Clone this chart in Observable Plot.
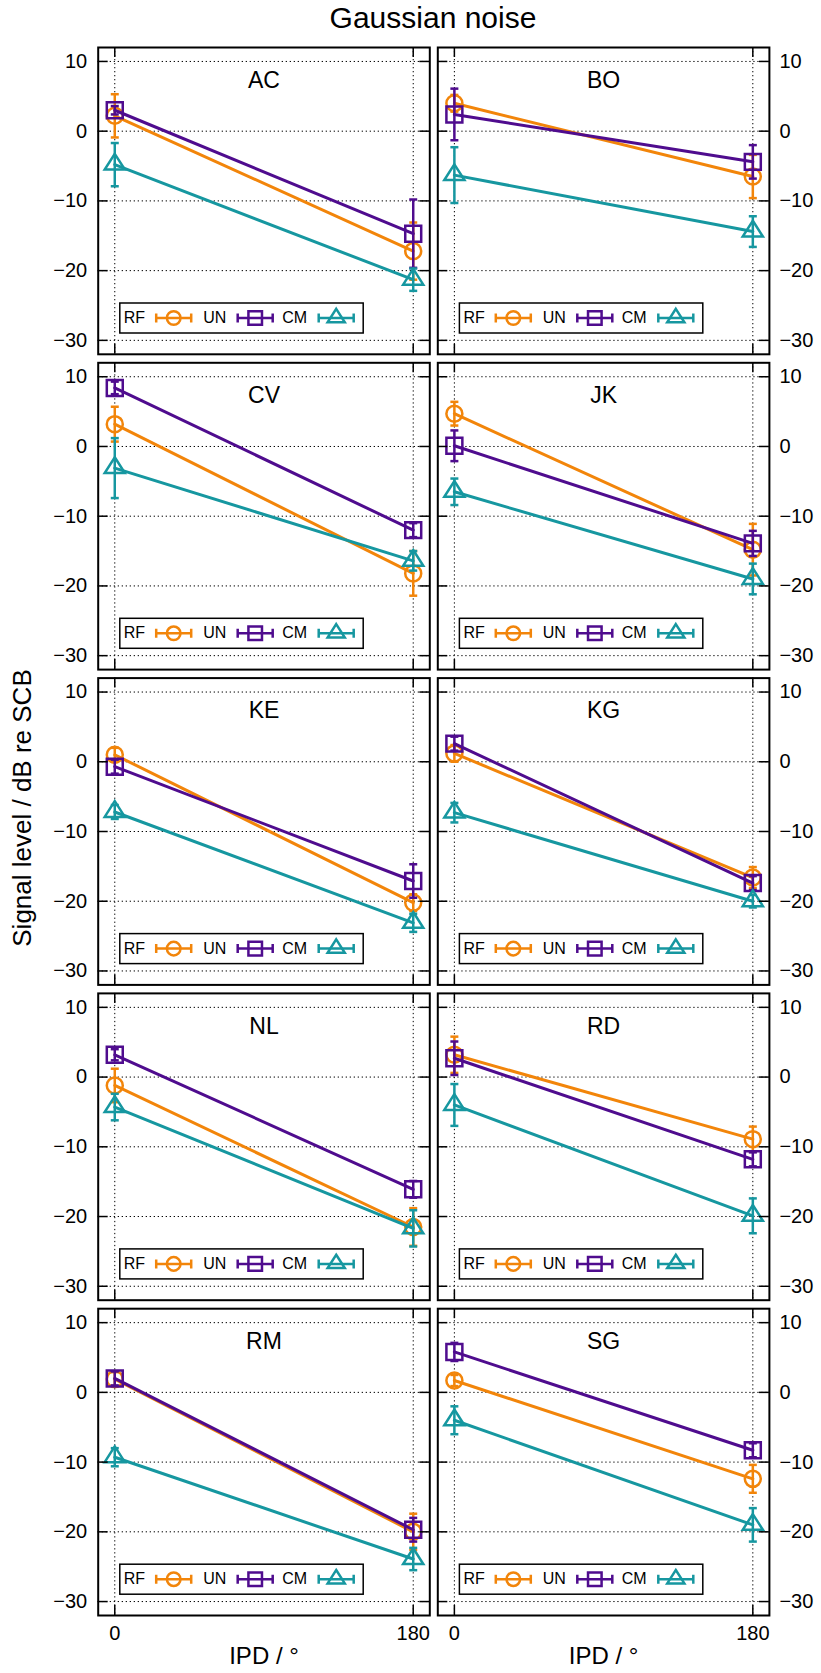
<!DOCTYPE html>
<html>
<head>
<meta charset="utf-8">
<script src="https://cdn.jsdelivr.net/npm/d3@7"></script>
<script src="https://cdn.jsdelivr.net/npm/@observablehq/plot@0.6"></script>
<style>
  html, body { margin: 0; padding: 0; background: #fff; }
  #fig { position: relative; width: 821px; height: 1673px; font-family: "Liberation Sans", Arial, sans-serif; color: #000; }
  #fig svg { position: absolute; left: 0; top: 0; }
  #title { position: absolute; left: 0; top: 1px; width: 866px; text-align: center; font-size: 30px; line-height: 34px; }
  #ylabel { position: absolute; left: 22px; top: 808px; transform: translate(-50%, -50%) rotate(-90deg); white-space: nowrap; font-size: 26px; line-height: 28px; }
</style>
</head>
<body>
<div id="fig">
  <div id="title">Gaussian noise</div>
  <div id="ylabel">Signal level / dB re SCB</div>
</div>
<script>
// Listeners, in panel order (left column, right column, row by row)
const subjects = ["AC", "BO", "CV", "JK", "KE", "KG", "NL", "RD", "RM", "SG"];
const ipd = [0, 180];
const series = ["RF", "UN", "CM"];
const colors = ["#f2850a", "#4f0c8e", "#1697a0"];
const yTicks = [-30, -20, -10, 0, 10];

// Signal level (dB re SCB) at IPD 0 and 180, and error half-widths
const rfLevel = [[2.2, -17.2], [4.0, -6.5], [3.2, -18.2], [4.7, -14.8], [1.0, -20.2],
                 [1.2, -16.6], [-1.2, -21.5], [3.2, -8.9], [1.9, -20.0], [1.7, -12.4]];
const rfError = [[3.1, 4.1], [1.2, 3.1], [2.5, 3.2], [1.7, 3.7], [1.0, 1.2],
                 [1.2, 1.5], [2.4, 2.7], [2.6, 1.8], [1.0, 2.6], [0.8, 2.0]];
const unLevel = [[3.0, -14.7], [2.4, -4.4], [8.4, -12.0], [0.1, -13.9], [-0.7, -17.1],
                 [2.6, -17.4], [3.2, -16.1], [2.7, -11.8], [2.0, -19.7], [5.8, -8.3]];
const unError = [[0.6, 4.9], [3.7, 2.4], [0.9, 1.0], [2.2, 1.8], [1.0, 2.4],
                 [1.0, 1.0], [0.8, 1.2], [2.4, 1.0], [1.0, 1.7], [1.3, 1.0]];
const cmLevel = [[-4.8, -21.3], [-6.3, -14.4], [-3.1, -16.4], [-6.5, -19.0], [-7.2, -23.1],
                 [-7.3, -20.0], [-4.3, -21.7], [-4.0, -19.9], [-9.3, -23.9], [-4.0, -19.0]];
const cmError = [[3.1, 1.6], [4.0, 2.2], [4.3, 1.4], [1.9, 2.2], [1.0, 1.3],
                 [1.4, 0.9], [1.9, 2.6], [3.0, 2.5], [1.3, 1.6], [2.0, 2.4]];

const levels = [rfLevel, unLevel, cmLevel];
const errors = [rfError, unError, cmError];

// Page geometry of the panel grid
const W = 821, H = 1673;
const gridLeft = 97.7, gridRight = 768.9, gridTop = 47, gridBottom = 1615;
const colGap = 8, rowGap = 8.5;
const colStep = (gridRight - gridLeft + colGap) / 2;
const rowStep = (gridBottom - gridTop + rowGap) / 5;
const bw = colStep - colGap, bh = rowStep - rowGap;

const panels = subjects.map((name, i) => ({name, col: i % 2 ? "R" : "L", row: Math.floor(i / 2)}));
const bottomPanels = panels.filter(p => p.row === 4);

const points = [];
panels.forEach((p, i) => {
  series.forEach((s, k) => {
    ipd.forEach((x, j) => {
      points.push({subject: p.name, col: p.col, row: p.row, series: s, ipd: x,
                   level: levels[k][i][j], err: errors[k][i][j]});
    });
  });
});

// Marker shapes
const capSym = {draw(ctx) { ctx.moveTo(-4, 0); ctx.lineTo(4, 0); }};
const triangleSym = {draw(ctx, size) {
  const r = Math.sqrt(size / Math.PI);
  ctx.moveTo(0, -r * 1.2); ctx.lineTo(r * 1.12, r * 0.55); ctx.lineTo(-r * 1.12, r * 0.55); ctx.closePath();
}};
const sampleSym = {draw(ctx) {
  ctx.moveTo(-17.5, 0); ctx.lineTo(17.5, 0);
  ctx.moveTo(-17.5, -4.5); ctx.lineTo(-17.5, 4.5);
  ctx.moveTo(17.5, -4.5); ctx.lineTo(17.5, 4.5);
}};
const symbols = ["circle", "square", triangleSym];
const radii = [8, 9, 9];

const facet = {fx: "col", fy: "row"};
const lo = d => d.level - d.err, hi = d => d.level + d.err;

const seriesMarks = series.flatMap((s, k) => {
  const data = points.filter(d => d.series === s);
  return [
    Plot.line(data, {...facet, x: "ipd", y: "level", z: "subject", stroke: colors[k], strokeWidth: 3}),
    Plot.ruleX(data, {...facet, x: "ipd", y1: lo, y2: hi, stroke: colors[k], strokeWidth: 2.5}),
    Plot.dot(data, {...facet, x: "ipd", y: lo, symbol: capSym, stroke: colors[k], strokeWidth: 2.5}),
    Plot.dot(data, {...facet, x: "ipd", y: hi, symbol: capSym, stroke: colors[k], strokeWidth: 2.5}),
    Plot.dot(data, {...facet, x: "ipd", y: "level", symbol: symbols[k], r: radii[k], stroke: colors[k], fill: "none", strokeWidth: 2.5})
  ];
});

// Key drawn inside every panel
const keyY = -36.3;
const keyText = [25.6, 105, 184];
const keySample = [75.5, 157, 238];
const keyMarks = [
  Plot.frame({fill: "#fff", stroke: "#000", strokeWidth: 1.5,
              insetLeft: 21.6, insetRight: bw - 265, insetTop: bh - 51.3, insetBottom: 21.3}),
  ...series.flatMap((s, k) => [
    Plot.text([s], {text: d => d, frameAnchor: "bottom-left", dx: keyText[k], dy: keyY,
                    textAnchor: "start", lineAnchor: "middle", fontSize: 16}),
    Plot.dot([s], {frameAnchor: "bottom-left", dx: keySample[k], dy: keyY, symbol: sampleSym,
                   stroke: colors[k], strokeWidth: 2.5}),
    Plot.dot([s], {frameAnchor: "bottom-left", dx: keySample[k], dy: keyY, symbol: symbols[k],
                   r: radii[k] * 0.85, stroke: colors[k], fill: "none", strokeWidth: 2.5})
  ])
];

const gridStyle = {stroke: "#000", strokeOpacity: 1, strokeWidth: 1, strokeDasharray: "1.3,2.7"};
const tickStyle = {stroke: "#000", strokeWidth: 1.5};

const chart = Plot.plot({
  width: W, height: H,
  marginLeft: gridLeft, marginRight: W - gridRight, marginTop: gridTop, marginBottom: H - gridBottom,
  style: {fontFamily: '"Liberation Sans", Arial, sans-serif', fontSize: "20px", color: "#000", background: "transparent", overflow: "visible"},
  x: {domain: [-10, 190]},
  y: {domain: [-32, 12]},
  fx: {domain: ["L", "R"], paddingInner: colGap / colStep, paddingOuter: 0, round: false, axis: null},
  fy: {domain: [0, 1, 2, 3, 4], paddingInner: rowGap / rowStep, paddingOuter: 0, round: false, axis: null},
  marks: [
    Plot.gridY(yTicks, gridStyle),
    Plot.gridX(ipd, gridStyle),
    ...keyMarks,
    ...seriesMarks,
    Plot.text(panels, {...facet, text: "name", frameAnchor: "top", dy: 33, lineAnchor: "middle", fontSize: 23}),
    Plot.frame({stroke: "#000", strokeWidth: 2}),
    Plot.tickY(yTicks, {y: d => d, insetRight: bw - 10, ...tickStyle}),
    Plot.tickY(yTicks, {y: d => d, insetLeft: bw - 10, ...tickStyle}),
    Plot.tickX(ipd, {x: d => d, insetTop: bh - 10, ...tickStyle}),
    Plot.tickX(ipd, {x: d => d, insetBottom: bh - 10, ...tickStyle}),
    Plot.axisY(yTicks, {anchor: "left", facetAnchor: "left", tickSize: 0, tickPadding: 11, label: null, fontSize: 20}),
    Plot.axisY(yTicks, {anchor: "right", facetAnchor: "right", tickSize: 0, tickPadding: 10, label: null, fontSize: 20}),
    Plot.axisX(ipd, {anchor: "bottom", facetAnchor: "bottom", tickSize: 0, tickPadding: 10, label: null, fontSize: 20}),
    Plot.text(bottomPanels, {...facet, text: () => "IPD / °", frameAnchor: "bottom", dy: 41, lineAnchor: "middle", fontSize: 24})
  ]
});

document.getElementById("fig").prepend(chart);
</script>
</body>
</html>
